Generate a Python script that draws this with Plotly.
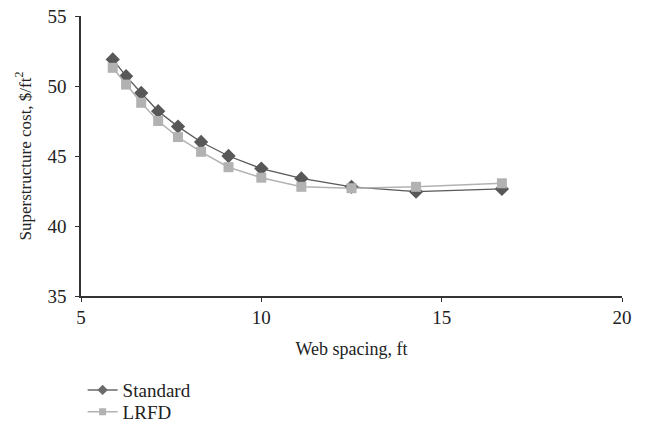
import plotly.graph_objects as go

web_spacing = [5.88, 6.25, 6.67, 7.14, 7.69, 8.33, 9.09, 10.0, 11.11, 12.5, 14.29, 16.67]
standard = [51.9, 50.7, 49.5, 48.2, 47.1, 46.0, 45.0, 44.1, 43.4, 42.8, 42.45, 42.65]
lrfd = [51.3, 50.1, 48.8, 47.5, 46.35, 45.3, 44.2, 43.45, 42.8, 42.7, 42.8, 43.05]

font_family = "Liberation Serif, DejaVu Serif, serif"
std_color = "#585858"
lrfd_color = "#b2b2b2"

fig = go.Figure()
fig.add_trace(go.Scatter(
    x=web_spacing, y=standard, name="Standard", mode="lines+markers",
    line=dict(color=std_color, width=1.3),
    marker=dict(symbol="diamond", size=11, color=std_color),
    showlegend=False,
))
fig.add_trace(go.Scatter(
    x=web_spacing, y=lrfd, name="LRFD", mode="lines+markers",
    line=dict(color=lrfd_color, width=1.5),
    marker=dict(symbol="square", size=10, color=lrfd_color),
    showlegend=False,
))
# legend entries (smaller legend symbols as in the reference)
fig.add_trace(go.Scatter(
    x=[None], y=[None], name="Standard", mode="lines+markers",
    line=dict(color="#6a6a6a", width=1.5),
    marker=dict(symbol="diamond", size=8, color="#6a6a6a"),
    legend="legend",
))
fig.add_trace(go.Scatter(
    x=[None], y=[None], name="LRFD", mode="lines+markers",
    line=dict(color=lrfd_color, width=1.5),
    marker=dict(symbol="square", size=7, color=lrfd_color),
    legend="legend2",
))

legend_common = dict(
    x=0.003, xanchor="left", yanchor="top",
    font=dict(size=19, family=font_family, color="#222222"),
    itemwidth=30, bgcolor="rgba(0,0,0,0)",
)

fig.update_layout(
    width=648, height=429,
    margin=dict(l=81, r=26, t=16, b=133, autoexpand=False),
    paper_bgcolor="white", plot_bgcolor="white",
    font=dict(family=font_family, size=16, color="#222222"),
    showlegend=True,
    legend=dict(y=-0.268, **legend_common),
    legend2=dict(y=-0.346, **legend_common),
)
fig.update_xaxes(
    range=[5, 20], tickvals=[5, 10, 15, 20],
    showline=True, linecolor="#333333", linewidth=1.5,
    ticks="outside", ticklen=4, tickcolor="#333333",
    showgrid=False, zeroline=False, automargin=False,
    tickfont=dict(size=19), ticklabelstandoff=-1,
    title=dict(text="Web spacing, ft", font=dict(size=18), standoff=16),
)
fig.update_yaxes(
    range=[35, 55], tickvals=[35, 40, 45, 50, 55],
    showline=True, linecolor="#333333", linewidth=1.5,
    ticks="outside", ticklen=4, tickcolor="#333333",
    showgrid=False, zeroline=False, automargin=False,
    tickfont=dict(size=19), ticklabelstandoff=5,
    title=dict(text="Superstructure cost, $/ft<sup>2</sup>", font=dict(size=17), standoff=12),
)

fig.write_html("out.html")
